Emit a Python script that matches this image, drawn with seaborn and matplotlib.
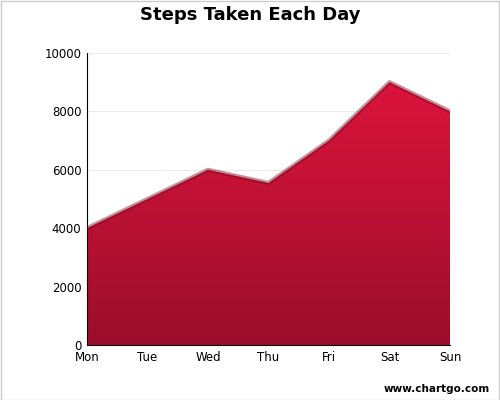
import matplotlib
matplotlib.use("Agg")
import matplotlib.pyplot as plt
import seaborn as sns
import numpy as np
from matplotlib.colors import LinearSegmentedColormap
from matplotlib.patches import Rectangle

days = ["Mon", "Tue", "Wed", "Thu", "Fri", "Sat", "Sun"]
steps = [4000, 5000, 6000, 5550, 7000, 9000, 8000]
yticks = [0, 2000, 4000, 6000, 8000, 10000]

sns.set_style("white")
plt.rcParams['font.family'] = ['DejaVu Sans']
fig = plt.figure(figsize=(5, 4), dpi=100)
ax = fig.add_axes([0.174, 0.1375, 0.726, 0.73])
x = np.arange(len(days))
poly = ax.fill_between(x, steps, 0, color="none")
cmap = LinearSegmentedColormap.from_list("g", ["#9a0e2b", "#dc143c"])
grad = np.linspace(0, 1, 256).reshape(-1, 1)
im = ax.imshow(grad, aspect="auto", cmap=cmap, origin="lower",
               extent=[0, len(days) - 1, 0, 9000], zorder=2)
im.set_clip_path(poly.get_paths()[0], transform=ax.transData)
sns.lineplot(x=x, y=steps, ax=ax, color="#7a0c20", linewidth=3, alpha=0.45, zorder=3)
ax.set_xlim(0, len(days) - 1)
ax.set_ylim(0, 10000)
ax.set_xticks(x)
ax.set_xticklabels(days, fontsize=8.5, color="black")
ax.set_yticks(yticks)
ax.set_yticklabels([str(v) for v in yticks], fontsize=8.5, color="black")
ax.yaxis.grid(True, color="#e6e6e6", linewidth=0.6)
ax.set_axisbelow(True)
for s in ["top", "right"]:
    ax.spines[s].set_visible(False)
ax.spines["left"].set_color("black")
ax.spines["bottom"].set_color("black")
ax.tick_params(axis="both", length=0, pad=4)
fig.text(0.5, 0.962, "Steps Taken Each Day", ha="center", va="center",
         fontsize=13, fontweight="bold", color="black")
fig.text(0.98, 0.027, "www.chartgo.com", ha="right", va="center",
         fontsize=7.5, fontweight="bold", color="black")
fig.patches.append(Rectangle((0.001, 0.001), 0.997, 0.997, transform=fig.transFigure,
                             fill=False, edgecolor="#cccccc", linewidth=1))
fig.savefig("out.png", dpi=100)
